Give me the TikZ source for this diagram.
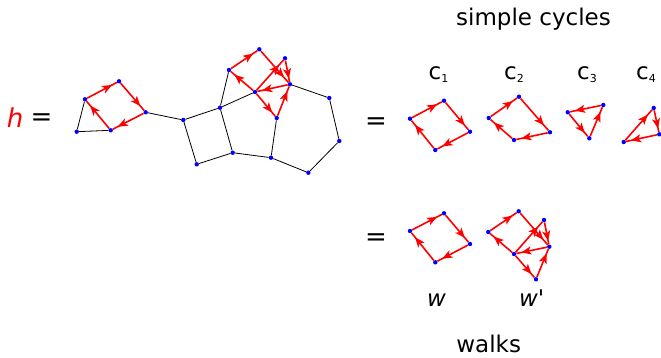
\documentclass[tikz,border=0pt]{standalone}
\usepackage{fontspec}
\setmainfont{DejaVu Sans}
\usetikzlibrary{arrows.meta,decorations.markings}
\newcommand{\lowidx}[1]{\raisebox{-3pt}{\fontsize{11}{11}\selectfont #1}}

\begin{document}
\begin{tikzpicture}[
    x=1pt,y=-1pt,
    every node/.style={font=\fontsize{23}{26}\selectfont},
    big/.style={font=\fontsize{26}{30}\selectfont},
    dot/.style={circle, fill=blue, inner sep=0pt, minimum size=4.4pt},
    link/.style={draw=black, line width=0.8pt},
    walk/.style={red, line width=1.6pt, postaction={decorate},
        decoration={markings, mark=at position 0.84 with {\arrow{Stealth[length=10pt,width=8pt,inset=2.5pt]}}}}
]
    \useasboundingbox (0,0) rectangle (661,358);

    % labels
    \node[big, red, anchor=base] (hname) at (15,128) {\itshape h};
    \node[big] (eqh) at (41.5,120) {=};
    \node[big] (eqc) at (376,124) {=};
    \node[big] (eqw) at (376,240) {=};
    \node[anchor=base] (cycles) at (533.5,26) {simple cycles};
    \node[anchor=base, inner sep=1pt] (walks) at (488.7,352) {walks};
    \foreach \n/\x in {1/438.5,2/514,3/587,4/646} {
        \node[anchor=base] (c\n) at (\x,80) {c\lowidx{\n}};
    }
    \node[anchor=base] (wname) at (436.5,306.7) {\itshape w};
    \node[anchor=base] (wpname) at (531.7,306.7) {\itshape w\textquotesingle};

    % the graph h
    \foreach \n/\x/\y in {a1/76.7/131.7, a2/85/99.3, a3/119/81.3, a4/145.7/112.3, a5/110.7/130.3,
        a6/183.3/120, a7/220/107.7, a8/196.7/164.3, a9/232.7/152.7, a10/229/70,
        a11/259.3/49.3, a12/285/58.3, a13/255/92, a14/290/84.3, a15/276.7/118,
        a16/271/157.7, a17/329.3/98, a18/339.3/141, a19/308.3/172.7} {
        \node[dot] (\n) at (\x,\y) {};
    }
    \foreach \s/\t in {a1/a2, a1/a5, a4/a6, a6/a7, a6/a8, a8/a9, a7/a9, a7/a10, a7/a13,
        a9/a16, a16/a15, a16/a19, a19/a18, a18/a17, a17/a14} {
        \draw[link] (\s) -- (\t);
    }
    \foreach \s/\t in {a2/a3, a3/a4, a4/a5, a5/a2, a10/a11, a11/a14, a13/a10, a13/a12,
        a12/a14, a14/a13, a13/a15, a15/a14} {
        \draw[walk] (\s) -- (\t);
    }

    % simple cycles
    \foreach \n/\x/\y in {b1/410/118.7, b2/444/100.7, b3/470/131.7, b4/435.3/150,
        d1/488.7/118, d2/519/96.7, d3/550/132.3, d4/514/140,
        e1/567.7/112.3, e2/603.3/105, e3/589.3/138.3,
        f1/623.7/142, f2/653.7/108, f3/659.3/134.3} {
        \node[dot] (\n) at (\x,\y) {};
    }
    \foreach \s/\t in {b1/b2, b2/b3, b3/b4, b4/b1, d1/d2, d2/d3, d3/d4, d4/d1,
        e2/e1, e1/e3, e3/e2, f1/f2, f2/f3, f3/f1} {
        \draw[walk] (\s) -- (\t);
    }

    % walks
    \foreach \n/\x/\y in {w1/410/231, w2/444/213.3, w3/470/244, w4/435.3/262.3,
        v1/488.3/232, v2/518.7/211.3, v3/544/220, v4/549.3/246.7, v5/514/254, v6/536/279.3} {
        \node[dot] (\n) at (\x,\y) {};
    }
    \foreach \s/\t in {w1/w2, w2/w3, w3/w4, w4/w1, v1/v2, v2/v4, v5/v1, v5/v3,
        v3/v4, v4/v5, v5/v6, v6/v4} {
        \draw[walk] (\s) -- (\t);
    }
\end{tikzpicture}
\end{document}
